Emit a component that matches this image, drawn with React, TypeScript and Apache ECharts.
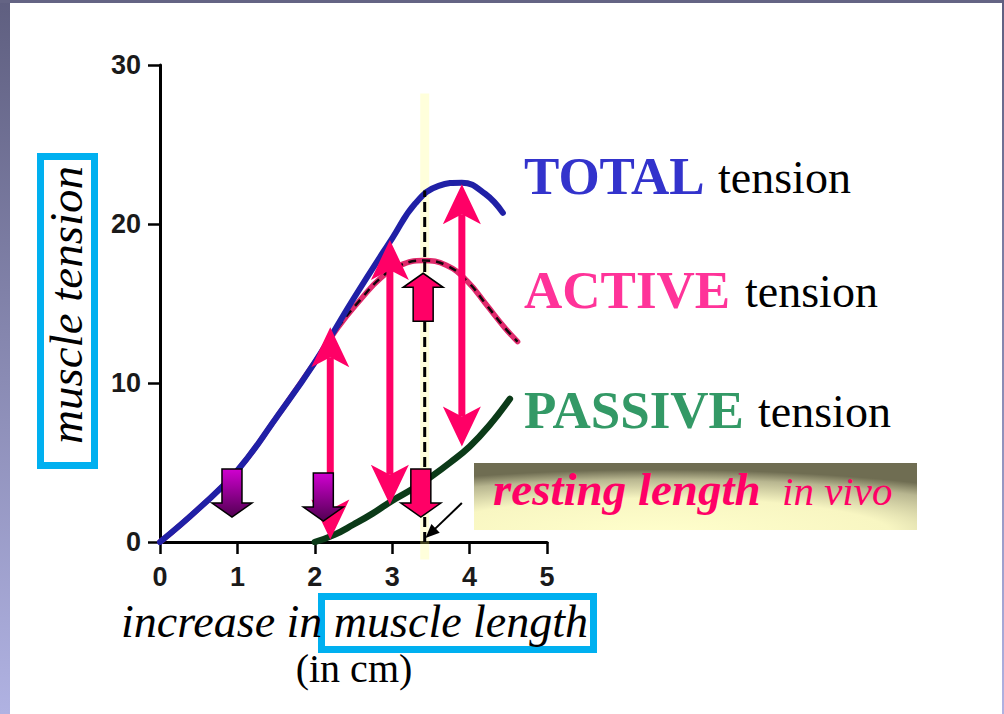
import React, { useEffect, useRef } from "react";
import * as echarts from "echarts";

// ---- data ----
const xTicks = [0, 1, 2, 3, 4, 5];
const yTicks = [0, 10, 20, 30];

const totalTension: [number, number][] = [
  [0, 0], [0.5, 2.1], [1, 4.5], [1.5, 7.8], [2, 11.3], [2.5, 15.3], [3, 19.1],
  [3.3, 21.3], [3.6, 22.4], [3.9, 22.6], [4.2, 21.9], [4.43, 20.7],
];
const activeTension: [number, number][] = [
  [0, 0], [0.5, 2.1], [1, 4.5], [1.5, 7.8], [2, 11.3], [2.3, 13.5], [2.6, 15.3],
  [2.85, 16.6], [3.1, 17.4], [3.4, 17.7], [3.7, 17.4], [3.97, 16.4], [4.22, 14.9],
  [4.45, 13.5], [4.62, 12.6],
];
const passiveTension: [number, number][] = [
  [2.0, 0], [2.25, 0.45], [2.5, 1.1], [2.75, 1.8], [3.0, 2.6], [3.25, 3.3],
  [3.5, 4.1], [3.75, 5.0], [4.0, 6.0], [4.25, 7.3], [4.52, 9.0],
];
const restingLengthX = 3.42;
const restingLine: [number, number][] = [[restingLengthX, 0], [restingLengthX, 22.1]];
const glowLine: [number, number][] = [[restingLengthX, -1.1], [restingLengthX, 28.2]];

const tensionArrowX = [2.2, 2.97, 3.9];
const tensionArrowLow = [0.15, 2.35, 6.0];
const tensionArrowHigh = [13.5, 19.0, 22.5];

const pointerFrom: [number, number] = [3.9, 2.45];
const pointerTo: [number, number] = [3.43, 0.25];

const blockArrowX = [0.93, 2.11, 3.37, 3.4];
const blockArrowTipY = [1.57, 1.32, 1.57, 16.9];
const blockArrowDir = [1, 1, 1, -1]; // 1 = points down, -1 = points up
const blockArrowKind = ["purple", "purple", "pink", "pink"];

const serif = "'Liberation Serif', 'Times New Roman', serif";

export default function App() {
  const ref = useRef<HTMLDivElement>(null);
  useEffect(() => {
    document.body.style.margin = "0";
    const chart = echarts.init(ref.current!, null, { renderer: "svg" });

    const purpleGrad = new echarts.graphic.LinearGradient(0, 0, 0, 1, [
      { offset: 0, color: "#d000d0" },
      { offset: 1, color: "#520052" },
    ]);
    const frameGrad = () =>
      new echarts.graphic.LinearGradient(0, 0, 0, 1, [
        { offset: 0, color: "#5f5f80" },
        { offset: 1, color: "#b0b2e2" },
      ]);

    const pink = "#ff0066";
    const tickFont = {
      fontSize: 27,
      fontWeight: "bold",
      color: "#1a1a1a",
      fontFamily: "'Liberation Sans', Arial, sans-serif",
    };

    const option: any = {
      animation: false,
      backgroundColor: "#ffffff",
      grid: { left: 160, top: 65, width: 387, height: 477, containLabel: false },
      xAxis: {
        type: "value",
        min: 0,
        max: 5,
        interval: 1,
        axisLine: { onZero: false, lineStyle: { color: "#000", width: 3 } },
        axisTick: { length: 12, lineStyle: { color: "#000", width: 2.5 } },
        axisLabel: {
          ...tickFont,
          margin: 21,
          formatter: (v: number) => (xTicks.includes(v) ? String(v) : ""),
        },
        splitLine: { show: false },
      },
      yAxis: {
        type: "value",
        min: 0,
        max: 30,
        interval: 10,
        axisLine: { show: true, onZero: false, lineStyle: { color: "#000", width: 3 } },
        axisTick: { show: true, length: 12, lineStyle: { color: "#000", width: 2.5 } },
        axisLabel: {
          ...tickFont,
          margin: 19,
          formatter: (v: number) => (yTicks.includes(v) ? String(v) : ""),
        },
        splitLine: { show: false },
      },
      series: [
        {
          type: "line",
          data: glowLine,
          symbol: "none",
          clip: false,
          silent: true,
          lineStyle: { color: "rgba(255,255,110,0.25)", width: 9 },
          z: 1,
        },
        {
          type: "line",
          data: activeTension,
          smooth: 0.45,
          symbol: "none",
          silent: true,
          lineStyle: { color: "#e02a6c", width: 5.5, cap: "round" },
          z: 2,
        },
        {
          type: "line",
          data: activeTension,
          smooth: 0.45,
          symbol: "none",
          silent: true,
          lineStyle: { color: "#14060c", width: 2.5, type: [8, 6] },
          z: 3,
        },
        {
          type: "line",
          data: totalTension,
          smooth: 0.45,
          symbol: "none",
          silent: true,
          lineStyle: { color: "#2020a6", width: 6, cap: "round" },
          z: 4,
        },
        {
          type: "line",
          data: passiveTension,
          smooth: 0.45,
          symbol: "none",
          silent: true,
          lineStyle: { color: "#0b3a18", width: 6.5, cap: "round" },
          z: 4,
        },
        {
          type: "line",
          data: restingLine,
          symbol: "none",
          silent: true,
          lineStyle: { color: "#000", width: 3, type: [10, 5] },
          z: 5,
        },
        {
          // double-headed tension arrows
          type: "custom",
          silent: true,
          clip: false,
          z: 6,
          data: tensionArrowX.map((x, i) => [x, tensionArrowLow[i], tensionArrowHigh[i]]),
          encode: { x: 0, y: [1, 2] },
          renderItem: (params: any, api: any) => {
            const lo = api.coord([api.value(0), api.value(1)]);
            const hi = api.coord([api.value(0), api.value(2)]);
            const tx = lo[0];
            const yL = lo[1], yH = hi[1];
            const hw = 19, hl = 40, notch = 30;
            return {
              type: "group",
              children: [
                {
                  type: "line",
                  shape: { x1: tx, y1: yH + notch, x2: tx, y2: yL - notch },
                  style: { stroke: pink, lineWidth: 7 },
                },
                {
                  type: "polygon",
                  shape: { points: [[tx, yH], [tx + hw, yH + hl], [tx, yH + notch], [tx - hw, yH + hl]] },
                  style: { fill: pink },
                },
                {
                  type: "polygon",
                  shape: { points: [[tx, yL], [tx + hw, yL - hl], [tx, yL - notch], [tx - hw, yL - hl]] },
                  style: { fill: pink },
                },
              ],
            };
          },
        },
        {
          // small black pointer to resting length
          type: "custom",
          silent: true,
          clip: false,
          z: 6,
          data: [[pointerFrom[0], pointerFrom[1], pointerTo[0], pointerTo[1]]],
          encode: { x: [0, 2], y: [1, 3] },
          renderItem: (params: any, api: any) => {
            const a = api.coord([api.value(0), api.value(1)]);
            const b = api.coord([api.value(2), api.value(3)]);
            const dx = b[0] - a[0], dy = b[1] - a[1];
            const len = Math.sqrt(dx * dx + dy * dy);
            const ux = dx / len, uy = dy / len;
            const hl = 14, hw = 6;
            const bx = b[0] - ux * hl, by = b[1] - uy * hl;
            return {
              type: "group",
              children: [
                {
                  type: "line",
                  shape: { x1: a[0], y1: a[1], x2: bx + ux * 3, y2: by + uy * 3 },
                  style: { stroke: "#000", lineWidth: 2 },
                },
                {
                  type: "polygon",
                  shape: {
                    points: [
                      [b[0], b[1]],
                      [bx - uy * hw, by + ux * hw],
                      [bx + uy * hw, by - ux * hw],
                    ],
                  },
                  style: { fill: "#000" },
                },
              ],
            };
          },
        },
        {
          type: "custom",
          silent: true,
          z: 7,
          data: blockArrowX.map((x, i) => [x, blockArrowTipY[i], blockArrowDir[i]]),
          encode: { x: 0, y: 1 },
          renderItem: (params: any, api: any) => {
            const i = params.dataIndex;
            const tip = api.coord([api.value(0), api.value(1)]);
            const dir = api.value(2);
            const purple = blockArrowKind[i] === "purple";
            const L = 48, H = 14, sw = 10, hw = 20;
            const tx = tip[0], ty = tip[1];
            const base = ty - dir * H;
            const back = ty - dir * L;
            const points = [
              [tx - sw, back], [tx + sw, back], [tx + sw, base], [tx + hw, base],
              [tx, ty], [tx - hw, base], [tx - sw, base],
            ];
            return {
              type: "polygon",
              shape: { points },
              style: {
                fill: purple ? purpleGrad : pink,
                stroke: "#000",
                lineWidth: 1.5,
              },
            };
          },
        },
      ],
      graphic: [
        // frame
        { type: "rect", shape: { x: 0, y: 0, width: 10, height: 714 }, style: { fill: frameGrad() }, z: 100 },
        { type: "rect", shape: { x: 0, y: 0, width: 1004, height: 3 }, style: { fill: "#646484" }, z: 100 },
        { type: "rect", shape: { x: 1002, y: 0, width: 2, height: 714 }, style: { fill: frameGrad() }, z: 100 },
        // y label box
        {
          type: "rect",
          shape: { x: 40.5, y: 156.5, width: 54, height: 309 },
          style: { fill: "none", stroke: "#00b0f0", lineWidth: 7 },
        },
        {
          type: "text",
          x: 66,
          y: 305,
          rotation: Math.PI / 2,
          style: {
            text: "muscle tension",
            font: `italic 47px ${serif}`,
            fill: "#000",
            textAlign: "center",
            textVerticalAlign: "middle",
          },
        },
        // x label
        {
          type: "rect",
          shape: { x: 321.5, y: 596.5, width: 272, height: 53 },
          style: { fill: "none", stroke: "#00b0f0", lineWidth: 7 },
        },
        {
          type: "text",
          x: 354.5,
          y: 621,
          style: {
            text: "increase in muscle length",
            font: `italic 46px ${serif}`,
            fill: "#000",
            textAlign: "center",
            textVerticalAlign: "middle",
          },
        },
        {
          type: "text",
          x: 354,
          y: 668,
          style: {
            text: "(in cm)",
            font: `40px ${serif}`,
            fill: "#000",
            textAlign: "center",
            textVerticalAlign: "middle",
          },
        },
        // legend labels
        {
          type: "text", x: 524, y: 176,
          style: { text: "TOTAL", font: `bold 53px ${serif}`, fill: "#3333cc", textVerticalAlign: "middle" },
        },
        {
          type: "text", x: 718, y: 177,
          style: { text: "tension", font: `46px ${serif}`, fill: "#000", textVerticalAlign: "middle" },
        },
        {
          type: "text", x: 524, y: 290,
          style: { text: "ACTIVE", font: `bold 53px ${serif}`, fill: "#ff3399", textVerticalAlign: "middle" },
        },
        {
          type: "text", x: 745, y: 291,
          style: { text: "tension", font: `46px ${serif}`, fill: "#000", textVerticalAlign: "middle" },
        },
        {
          type: "text", x: 524, y: 410,
          style: { text: "PASSIVE", font: `bold 53px ${serif}`, fill: "#339966", textVerticalAlign: "middle" },
        },
        {
          type: "text", x: 758, y: 411,
          style: { text: "tension", font: `46px ${serif}`, fill: "#000", textVerticalAlign: "middle" },
        },
        // resting length box
        {
          type: "rect",
          shape: { x: 474, y: 463, width: 443, height: 67 },
          style: {
            fill: new echarts.graphic.RadialGradient(0.42, 1.05, 0.95, [
              { offset: 0, color: "#ffffcc" },
              { offset: 0.55, color: "#f8f6c2" },
              { offset: 0.85, color: "#b8b690" },
              { offset: 1, color: "#6f6d52" },
            ]),
          },
        },
        {
          type: "text", x: 493, y: 489,
          style: { text: "resting length", font: `italic bold 47px ${serif}`, fill: "#ff0066", textVerticalAlign: "middle" },
        },
        {
          type: "text", x: 782, y: 491,
          style: { text: "in vivo", font: `italic 41px ${serif}`, fill: "#ff0066", textVerticalAlign: "middle" },
        },
      ],
    };

    chart.setOption(option);
    return () => chart.dispose();
  }, []);

  return <div ref={ref} style={{ width: 1004, height: 714 }} />;
}
